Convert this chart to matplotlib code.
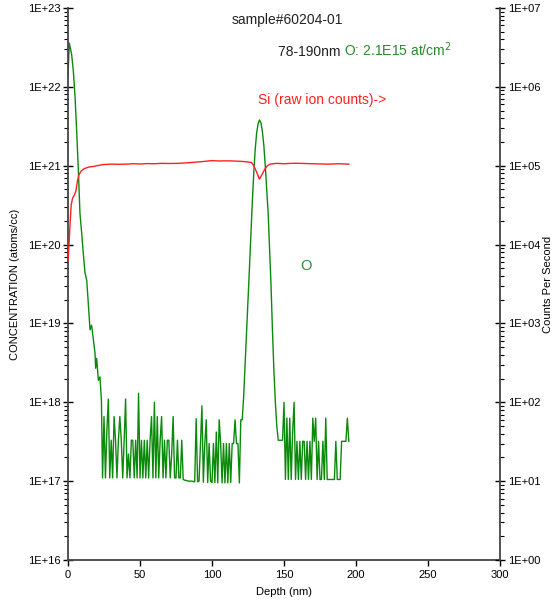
import numpy as np
import matplotlib.pyplot as plt
from matplotlib.ticker import FixedLocator, FuncFormatter, NullFormatter, MultipleLocator

plt.rcParams['font.family'] = ['Liberation Sans', 'DejaVu Sans']

# O profile near the surface (depth nm, atoms/cc)
o_surf_depth = [0, 0.9, 2.5, 3.7, 4.9, 6.0, 7.2, 8.3, 9.5, 10.6, 11.8, 13.0, 14.1,
                15.3, 16.4, 17.6, 18.75, 19.2, 19.9, 21.1, 22.2, 23.2]
o_surf_conc = [1.4e22, 3.6e22, 2.6e22, 1.6e22, 7.4e21, 2.8e21, 8.7e20, 2.5e20,
               1.4e20, 7.8e19, 4.4e19, 3.5e19, 1.8e19, 8.3e18, 9.5e18, 6.2e18,
               4.2e18, 2.7e18, 3.6e18, 1.9e18, 2.1e18, 1.07e18]

# noisy background 24..120 nm, in units of 1e17 atoms/cc
o_noise1_e17 = [1.1, 6.6, 1.1, 4.4, 11, 1.1, 3.3, 1.1, 6.6, 3.3,
                1.1, 3.3, 6.6, 3.3, 1.1, 3.3, 11, 1.1, 2.2, 1.1,
                3.3, 3.3, 1.1, 3.3, 1.1, 13, 1.1, 3.3, 1.1, 3.3,
                1.1, 3.3, 1.1, 3.3, 6.6, 1.1, 10, 1.1, 6.6, 1.1,
                3.3, 6.6, 1.1, 3.3, 1.1, 3.3, 3.3, 1.1, 2.2, 6.6,
                1.1, 1.1, 3.3, 1.1, 1.1, 3.3, 1.05, 1.03, 1.02, 1.01,
                1.0, 1.0, 1.0, 0.99, 0.98, 6.2, 0.98, 1.0, 3.0, 9.0,
                0.97, 3.0, 6.0, 0.96, 3.0, 1.0, 0.96, 3.0, 0.96, 4.2,
                0.95, 6.0, 3.0, 0.95, 3.0, 0.95, 3.0, 0.95, 3.0, 0.96,
                3.0, 3.0, 6.0, 3.0, 3.0, 0.95, 6.0]

# implanted O peak 121..145 nm
o_peak = [6e17, 1.2e18, 3e18, 8e18, 2e19, 5e19, 1.3e20, 3.5e20, 8e20, 1.6e21,
          2.6e21, 3.4e21, 3.8e21, 3.5e21, 2.7e21, 1.8e21, 1e21, 5e20, 2.5e20,
          9e19, 3e19, 8e18, 2.5e18, 1e18, 5e17]

# noisy background 146..195 nm, in units of 1e17 atoms/cc
o_noise2_e17 = [3.3, 3.3, 3.3, 3.3, 10, 1.05, 6.3, 1.05, 6.3, 1.05,
                4.2, 10, 1.05, 3.2, 1.05, 3.2, 1.05, 3.2, 3.2, 1.05,
                3.2, 1.05, 3.2, 1.05, 6.3, 3.2, 6.3, 1.05, 3.2, 1.05,
                1.05, 3.2, 1.05, 6.3, 1.05, 1.05, 1.05, 1.05, 1.05, 1.05,
                3.2, 1.05, 1.05, 1.05, 3.2, 3.2, 3.2, 3.2, 6.3, 3.2]

# Si raw ion counts (counts per second)
si_depth = [0, 0.7, 1.4, 2.2, 3.2, 4.5, 5.5, 6.5, 7.5, 9, 11, 13, 15, 17.6, 20,
            24.5, 30, 35, 40.7, 45, 50, 55, 60, 65, 70, 77, 85, 92, 100, 105,
            110, 115, 120, 124, 127.5, 129, 131, 132.9, 134.5, 136.8, 138.5,
            140.3, 145, 150, 155, 161, 170, 180, 188, 195]
si_cps = [6300, 10000, 17800, 31600, 38900, 42700, 47900, 63100, 75900, 85100,
          91200, 94400, 96600, 97700, 100000, 103500, 104700, 104200, 104700,
          105900, 105200, 106400, 105900, 107200, 106700, 107200, 109600,
          112200, 116100, 114800, 115300, 114800, 113500, 112200, 109600,
          100000, 83200, 67600, 75900, 91200, 100000, 104700, 107200, 105900,
          107200, 107200, 105900, 104700, 105900, 104700]

conc_decades = [1e16, 1e17, 1e18, 1e19, 1e20, 1e21, 1e22, 1e23]
cps_decades = [1e0, 1e1, 1e2, 1e3, 1e4, 1e5, 1e6, 1e7]

o_depth = np.concatenate([o_surf_depth, np.arange(24, 121), np.arange(121, 146),
                          np.arange(146, 196)])
o_conc = np.concatenate([o_surf_conc, np.array(o_noise1_e17) * 1e17, o_peak,
                         np.array(o_noise2_e17) * 1e17])

W, H = 558, 602
fig = plt.figure(figsize=(W / 100, H / 100), dpi=100)
ax = fig.add_axes([68 / W, 42 / H, 432 / W, 552 / H])
ax2 = ax.twinx()

ax.plot(o_depth, o_conc, color='#0a8a0a', lw=1.0)
ax2.plot(si_depth, si_cps, color='#ff2020', lw=1.0)

ax.set_xlim(0, 300)
ax.set_yscale('log')
ax.set_ylim(conc_decades[0], conc_decades[-1])
ax2.set_yscale('log')
ax2.set_ylim(cps_decades[0], cps_decades[-1])

fmt = FuncFormatter(lambda v, _: "1E+%02d" % int(round(np.log10(v))))
for a, dec in ((ax, conc_decades), (ax2, cps_decades)):
    a.yaxis.set_major_locator(FixedLocator(dec))
    minors = [d * k for d in dec[:-1] for k in range(2, 10)]
    a.yaxis.set_minor_locator(FixedLocator(minors))
    a.yaxis.set_major_formatter(fmt)
    a.yaxis.set_minor_formatter(NullFormatter())
    a.spines['top'].set_visible(False)
    for s in a.spines.values():
        s.set_linewidth(1.3)
        s.set_color('#444444')
ax.spines['right'].set_visible(False)
ax2.spines['left'].set_visible(False)
ax2.spines['bottom'].set_visible(False)

ax.xaxis.set_major_locator(MultipleLocator(50))
ax.tick_params(axis='x', direction='out', length=4, width=1, labelsize=8, pad=3)
for a in (ax, ax2):
    a.tick_params(axis='y', which='major', direction='inout', length=7, width=1,
                  labelsize=8, pad=2)
    a.tick_params(axis='y', which='minor', direction='out', length=3, width=0.8)

ax.set_xlabel('Depth (nm)', fontsize=8)
ax.xaxis.set_label_coords(0.5, -0.049)
ax.set_ylabel('CONCENTRATION (atoms/cc)', fontsize=8)
ax.yaxis.set_label_coords(-0.111, 0.5)
ax2.set_ylabel('Counts Per Second', fontsize=8)
ax2.yaxis.set_label_coords(1.1005, 0.5)

ax.text(0.507, 0.978, 'sample#60204-01', transform=ax.transAxes, ha='center',
        va='center', fontsize=10, color='#222222')
t1 = ax.text((278 - 68) / 432, (560 - 52) / 552, '78-190nm ', transform=ax.transAxes,
             ha='left', va='center', fontsize=10, color='#222222')
ax.annotate('O: 2.1E15 at/cm$^2$', xy=(1, 0), xycoords=t1, ha='left', va='bottom',
            fontsize=10, color='#2a8a2a')
ax.text((258 - 68) / 432, (560 - 100) / 552, 'Si (raw ion counts)->',
        transform=ax.transAxes, ha='left', va='center', fontsize=10, color='#ff2020')
ax.text((306 - 68) / 432, (560 - 266) / 552, 'O', transform=ax.transAxes,
        ha='center', va='center', fontsize=10.5, color='#2a8a2a')

fig.savefig('out.png', dpi=100)
